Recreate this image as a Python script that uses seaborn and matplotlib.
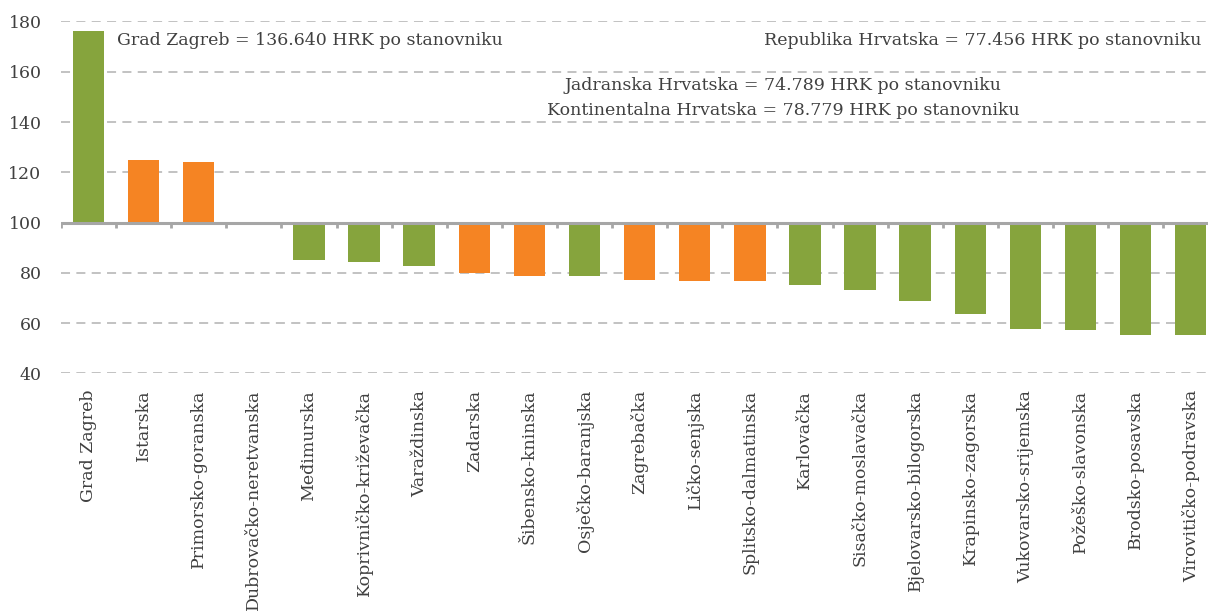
import numpy as np
import pandas as pd
import seaborn as sns
import matplotlib.pyplot as plt

# indeks prema prosjeku RH (=100)
zupanije = ["Grad Zagreb", "Istarska", "Primorsko-goranska", "Dubrovačko-neretvanska",
            "Međimurska", "Koprivničko-križevačka", "Varaždinska", "Zadarska",
            "Šibensko-kninska", "Osječko-baranjska", "Zagrebačka", "Ličko-senjska",
            "Splitsko-dalmatinska", "Karlovačka", "Sisačko-moslavačka",
            "Bjelovarsko-bilogorska", "Krapinsko-zagorska", "Vukovarsko-srijemska",
            "Požeško-slavonska", "Brodsko-posavska", "Virovitičko-podravska"]
indeks = [176.4, 124.9, 123.9, 100.0, 84.9, 84.1, 82.9, 80.1, 78.9, 78.9, 77.3,
          76.9, 76.9, 75.0, 73.0, 68.6, 63.8, 57.8, 57.1, 55.1, 55.1]
skupina = ["K", "J", "J", "J", "K", "K", "K", "J", "J", "K", "J",
           "J", "J", "K", "K", "K", "K", "K", "K", "K", "K"]

df = pd.DataFrame({"zupanija": zupanije, "indeks": indeks, "skupina": skupina})
df["razlika"] = df["indeks"] - 100

sns.set_style("white")
plt.rcParams["font.family"] = ["DejaVu Serif"]
txt = "#404040"

fig = plt.figure(figsize=(12.08, 6.14), dpi=100)
ax = fig.add_axes([0.0505, 0.392, 0.958, 0.573])

sns.barplot(data=df, x="zupanija", y="razlika", hue="skupina",
            palette={"K": "#86A43D", "J": "#F58423"}, dodge=False,
            width=0.57, bottom=100, legend=False, ax=ax, saturation=1,
            linewidth=0, zorder=2)

ax.set_ylim(40, 180)
ax.set_xlim(-0.5, len(zupanije) - 0.5)
ax.set_yticks([40, 60, 80, 100, 120, 140, 160, 180])
for y in [40, 60, 80, 120, 140, 160, 180]:
    ax.axhline(y, color="#bdbdbd", lw=1.3, ls=(0, (5, 3.5)), zorder=0)
ax.axhline(100, color="#a6a6a6", lw=2.2, zorder=3)
ax.vlines(np.arange(len(zupanije) + 1) - 0.5, 97.7, 100, color="#a6a6a6", lw=2, zorder=3)

for s in ax.spines.values():
    s.set_visible(False)
ax.set_xlabel("")
ax.set_ylabel("")
ax.tick_params(axis="x", length=0, pad=12, labelsize=12.5, labelcolor=txt, labelrotation=90)
ax.tick_params(axis="y", length=0, pad=14, labelsize=12.5, labelcolor=txt)
for lab in ax.get_xticklabels():
    lab.set_va("top")

ax.text(0.52, 172.5, "Grad Zagreb = 136.640 HRK po stanovniku", fontsize=12.5, color=txt, va="center")
ax.text(20.2, 172.5, "Republika Hrvatska = 77.456 HRK po stanovniku", fontsize=12.5, color=txt,
        va="center", ha="right")
ax.text(12.6, 154.5, "Jadranska Hrvatska = 74.789 HRK po stanovniku", fontsize=12.5, color=txt,
        va="center", ha="center")
ax.text(12.6, 144.5, "Kontinentalna Hrvatska = 78.779 HRK po stanovniku", fontsize=12.5, color=txt,
        va="center", ha="center")

fig.savefig("out.png", dpi=100)
